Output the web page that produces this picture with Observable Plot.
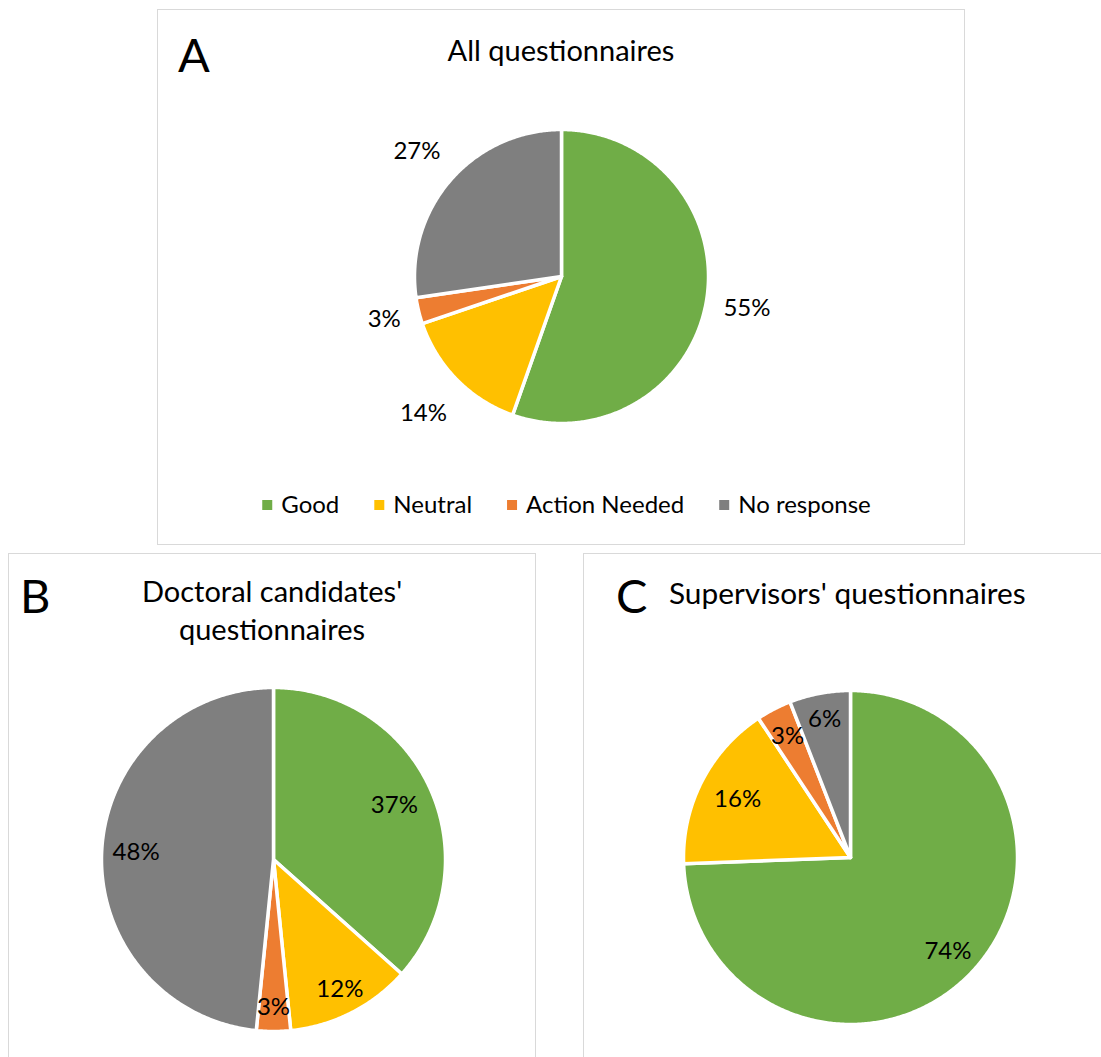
<!DOCTYPE html>
<html><head><meta charset="utf-8">
<script src="https://cdn.jsdelivr.net/npm/d3@7"></script>
<script src="https://cdn.jsdelivr.net/npm/@observablehq/plot@0.6"></script>
<style>
html,body{margin:0;padding:0;width:1101px;height:1057px;overflow:hidden;background:#fff;font-family:Lato,"Open Sans",sans-serif;color:#000;}
.frame{position:absolute;border:1.5px solid #d9d9d9;box-sizing:border-box;}
.layer{position:absolute;left:0;top:0;}
</style></head><body>
<div id="root"></div>
<script>
// ---- data ----
const categories = ["Good", "Neutral", "Action Needed", "No response"];
const colors = ["#70AD47", "#FFC000", "#ED7D31", "#7F7F7F"];
const allValues = [55.4, 14.4, 2.9, 27.3];
const doctoralValues = [36.6, 11.8, 3.2, 48.4];
const supervisorValues = [74.4, 16.3, 3.4, 5.9];
const panelLetters = ["A", "B", "C"];
const panelTitles = [["All questionnaires"], ["Doctoral candidates'", "questionnaires"], ["Supervisors' questionnaires"]];

// ---- layout (pixels) ----
const W = 1101, H = 1057;
const panels = [
  {values: allValues, frame: [157, 9, 808, 536], cx: 561, cy: 276, r: 147,
   labelR: [1.28, 1.32, 1.24, 1.30], letter: [178, 72],
   title: {x: 561, ys: [61], anchor: "middle", size: 29}},
  {values: doctoralValues, frame: [8, 553, 528, 540], cx: 273, cy: 859, r: 172,
   labelR: [0.77, 0.85, 0.86, 0.80], letter: [20, 613],
   title: {x: 272, ys: [602, 640], anchor: "middle", size: 29}},
  {values: supervisorValues, frame: [583, 553, 540, 540], cx: 850, cy: 857, r: 167,
   labelR: [0.81, 0.76, 0.82, 0.84], letter: [616, 613],
   title: {x: 669, ys: [604], anchor: "start", size: 29.8}}
];
const FONT = "Lato, 'Open Sans', sans-serif";
const root = document.getElementById("root");

// frames
panels.forEach(p => {
  const d = document.createElement("div");
  d.className = "frame";
  Object.assign(d.style, {left: p.frame[0] + "px", top: p.frame[1] + "px", width: p.frame[2] + "px", height: p.frame[3] + "px"});
  root.appendChild(d);
});

// pies
panels.forEach(p => {
  const arcs = d3.pie().sort(null).value(d => d)(p.values);
  const total = d3.sum(p.values);
  const pts = [];
  arcs.forEach((a, i) => {
    const cat = categories[i];
    pts.push({cat, x: 0, y: 0});
    const n = Math.max(2, Math.ceil((a.endAngle - a.startAngle) / (Math.PI / 360)));
    for (let k = 0; k <= n; k++) {
      const t = a.startAngle + (a.endAngle - a.startAngle) * k / n;
      pts.push({cat, x: Math.sin(t), y: Math.cos(t)});
    }
    pts.push({cat, x: 0, y: 0});
  });
  const labels = arcs.map((a, i) => {
    const m = (a.startAngle + a.endAngle) / 2;
    return {x: p.labelR[i] * Math.sin(m), y: p.labelR[i] * Math.cos(m),
            text: Math.round(p.values[i] / total * 100) + "%"};
  });
  const svg = Plot.plot({
    width: W, height: H, margin: 0,
    x: {domain: [-1, 1], range: [p.cx - p.r, p.cx + p.r], axis: null},
    y: {domain: [-1, 1], range: [p.cy + p.r, p.cy - p.r], axis: null},
    color: {domain: categories, range: colors},
    style: {background: "transparent", overflow: "visible", fontFamily: FONT},
    marks: [
      Plot.line(pts, {x: "x", y: "y", z: "cat", fill: "cat", stroke: "white", strokeWidth: 3.5, strokeLinejoin: "round", curve: "linear"}),
      Plot.text(labels, {x: "x", y: "y", text: "text", fontSize: 24, fill: "#000"})
    ]
  });
  svg.classList.add("layer");
  svg.style.position = "absolute"; svg.style.left = "0px"; svg.style.top = "0px";
  root.appendChild(svg);
});

// titles, letters, legend
const tsvg = d3.select(root).append("svg").attr("class", "layer")
  .attr("width", W).attr("height", H).style("position", "absolute")
  .style("font-family", FONT);
panels.forEach((p, i) => {
  tsvg.append("text").attr("x", p.letter[0]).attr("y", p.letter[1])
    .attr("font-size", 47).attr("fill", "#000").text(panelLetters[i]);
  panelTitles[i].forEach((line, j) => {
    tsvg.append("text").attr("x", p.title.x).attr("y", p.title.ys[j])
      .attr("text-anchor", p.title.anchor).attr("font-size", p.title.size).attr("fill", "#000").text(line);
  });
});
// legend (panel A)
const lg = tsvg.append("g");
let lx = 0;
categories.forEach((c, i) => {
  lg.append("rect").attr("x", lx).attr("y", 500).attr("width", 10).attr("height", 10).attr("fill", colors[i]);
  const t = lg.append("text").attr("x", lx + 19).attr("y", 513).attr("font-size", 24).attr("fill", "#000").text(c);
  lx += 19 + t.node().getComputedTextLength() + 35;
});
lx -= 35;
lg.attr("transform", `translate(${566.5 - lx / 2},0)`);
</script>
</body></html>
